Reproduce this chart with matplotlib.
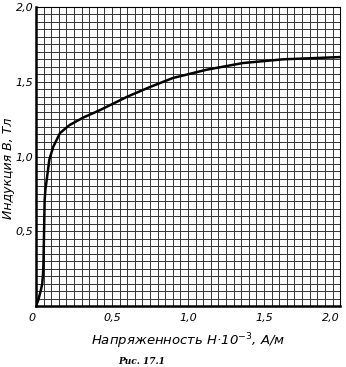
import numpy as np
import matplotlib
matplotlib.use("Agg")
import matplotlib.pyplot as plt

# B-H curve
H = [0.0, 0.015, 0.033, 0.041, 0.046, 0.049, 0.053, 0.057, 0.062, 0.07, 0.088, 0.114,
     0.158, 0.22, 0.31, 0.42, 0.60, 0.75, 0.90, 1.12, 1.36, 1.625, 2.0]
B = [0.0, 0.04, 0.11, 0.15, 0.21, 0.28, 0.49, 0.71, 0.78, 0.84, 0.98, 1.066,
     1.157, 1.21, 1.26, 1.31, 1.40, 1.465, 1.525, 1.58, 1.625, 1.65, 1.665]

ticks = [0, 0.5, 1.0, 1.5, 2.0]
xlabels = ["0", "0,5", "1,0", "1,5", "2,0"]
ylabels = ["", "0,5", "1,0", "1,5", "2,0"]

fig = plt.figure(figsize=(3.46, 3.67), dpi=100)
ax = fig.add_axes([0.104, 0.166, 0.879, 0.815])

grid = np.arange(0, 2.0001, 0.05)
for g in grid:
    ax.axvline(g, color="#333333", lw=0.7, zorder=1)
    ax.axhline(g, color="#333333", lw=0.7, zorder=1)

ax.plot(H, B, color="black", lw=1.8, zorder=3, solid_capstyle="round",
        solid_joinstyle="round")

ax.set_xlim(0, 2.0)
ax.set_ylim(0, 2.0)
ax.set_xticks(ticks)
ax.set_yticks(ticks)
ax.set_xticklabels(xlabels, fontstyle="italic", fontsize=8)
ax.set_yticklabels(ylabels, fontstyle="italic", fontsize=8)
ax.get_xticklabels()[-1].set_ha("right")
ax.get_xticklabels()[0].set_ha("right")
ax.tick_params(axis="x", length=0, pad=5)
ax.tick_params(axis="y", length=0, pad=2)
for s in ["left", "bottom"]:
    ax.spines[s].set_linewidth(1.8)
for s in ["top", "right"]:
    ax.spines[s].set_linewidth(0.8)

ax.set_xlabel("Напряженность H·10$^{-3}$, А/м", fontsize=9.5, fontstyle="italic")
ax.xaxis.set_label_coords(0.5, -0.085)
ax.set_ylabel("Индукция В, Тл", fontsize=9, fontstyle="italic")
ax.yaxis.set_label_coords(-0.07, 0.46)

fig.text(0.41, 0.002, "Рис. 17.1", fontsize=6.5, fontstyle="italic",
         fontweight="bold", family="DejaVu Serif", ha="center", va="bottom")

fig.savefig("out.png", dpi=100)
